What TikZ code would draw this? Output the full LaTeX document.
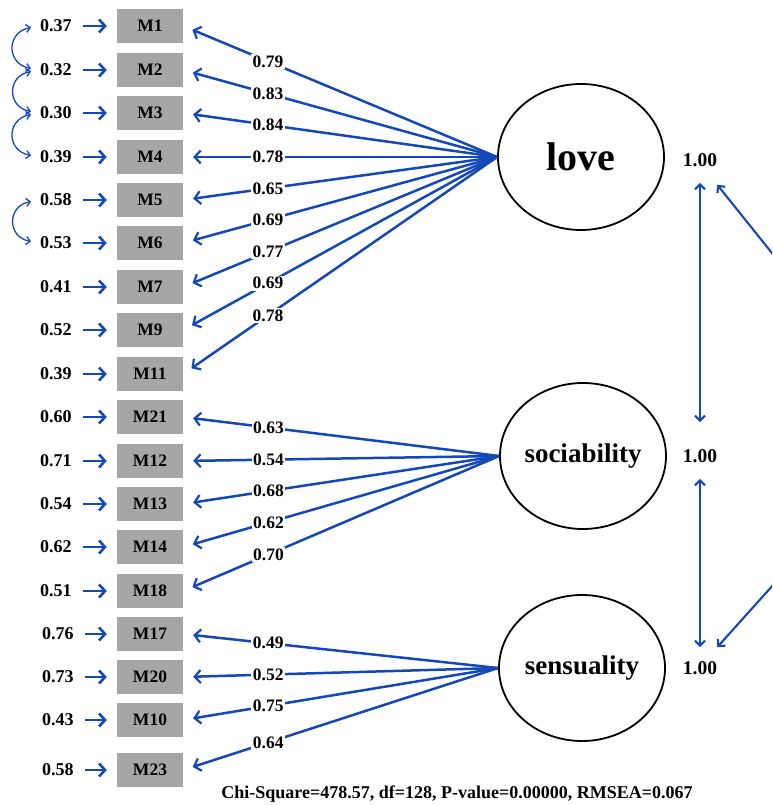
\documentclass[tikz,border=0pt]{standalone}
\usepackage{fontspec}
\setmainfont{Liberation Serif}
\usepackage{tikz}
\usetikzlibrary{arrows.meta, shapes.geometric, positioning}

\definecolor{pathblue}{RGB}{20,72,185}
\definecolor{boxgray}{RGB}{166,166,166}

\begin{document}
\begin{tikzpicture}[x=1pt, y=-1pt,
  obs/.style={fill=boxgray, minimum width=66pt, minimum height=34pt, inner sep=0pt,
    font=\bfseries\fontsize{17.5}{17.5}\selectfont},
  err/.style={inner sep=0pt, font=\bfseries\fontsize{18}{18}\selectfont},
  lat/.style={draw, ellipse, line width=1.8pt, inner sep=0pt,
    minimum width=166pt, minimum height=146pt},
  varlbl/.style={inner sep=0pt, font=\bfseries\fontsize{19.5}{19.5}\selectfont},
  lbl/.style={fill=white, text=black, inner sep=1.5pt, font=\bfseries\fontsize{17.5}{17.5}\selectfont},
  load/.style={pathblue, line width=2.5pt, shorten >=10pt,
    -{Straight Barb[length=6pt, width=13pt, line width=2.2pt]}},
  errarr/.style={pathblue, line width=2.8pt, shorten <=11pt, shorten >=10pt,
    -{Straight Barb[length=6pt, width=13pt, line width=2.6pt]}},
  cov/.style={pathblue, line width=1.3pt, shorten <=9pt, shorten >=9pt,
    {Straight Barb[length=4pt, width=8pt]}-{Straight Barb[length=4pt, width=8pt]}},
  varr/.style={pathblue, line width=2.1pt,
    {Straight Barb[length=5pt, width=10pt]}-{Straight Barb[length=5pt, width=10pt]}}]
  \useasboundingbox (0,0) rectangle (772,805);
  \clip (0,0) rectangle (772,805);

  % observed variables
  \node[obs] (M1)  at (150,26)  {M1};
  \node[obs] (M2)  at (150,70)  {M2};
  \node[obs] (M3)  at (150,113) {M3};
  \node[obs] (M4)  at (150,157) {M4};
  \node[obs] (M5)  at (150,200) {M5};
  \node[obs] (M6)  at (150,243) {M6};
  \node[obs] (M7)  at (150,287) {M7};
  \node[obs] (M9)  at (150,330) {M9};
  \node[obs] (M11) at (150,374) {M11};
  \node[obs] (M21) at (150,417) {M21};
  \node[obs] (M12) at (150,461) {M12};
  \node[obs] (M13) at (150,504) {M13};
  \node[obs] (M14) at (150,547) {M14};
  \node[obs] (M18) at (150,591) {M18};
  \node[obs] (M17) at (150,634) {M17};
  \node[obs] (M20) at (150,677) {M20};
  \node[obs] (M10) at (150,720) {M10};
  \node[obs] (M23) at (150,770) {M23};

  % error variances
  \node[err, left=45pt of M1]  (e1)  {0.37};
  \node[err, left=45pt of M2]  (e2)  {0.32};
  \node[err, left=45pt of M3]  (e3)  {0.30};
  \node[err, left=45pt of M4]  (e4)  {0.39};
  \node[err, left=45pt of M5]  (e5)  {0.58};
  \node[err, left=45pt of M6]  (e6)  {0.53};
  \node[err, left=45pt of M7]  (e7)  {0.41};
  \node[err, left=45pt of M9]  (e9)  {0.52};
  \node[err, left=45pt of M11] (e11) {0.39};
  \node[err, left=45pt of M21] (e21) {0.60};
  \node[err, left=45pt of M12] (e12) {0.71};
  \node[err, left=45pt of M13] (e13) {0.54};
  \node[err, left=45pt of M14] (e14) {0.62};
  \node[err, left=45pt of M18] (e18) {0.51};
  \node[err, left=43pt of M17] (e17) {0.76};
  \node[err, left=43pt of M20] (e20) {0.73};
  \node[err, left=43pt of M10] (e10) {0.43};
  \node[err, left=43pt of M23] (e23) {0.58};

  \foreach \i in {1,2,3,4,5,6,7,9,11,21,12,13,14,18,17,20,10,23}
    \draw[errarr] (e\i) -- (M\i);

  % latent variables
  \node[lat, font=\bfseries\fontsize{40}{40}\selectfont] (love) at (581,157) {love};
  \node[lat, font=\bfseries\fontsize{27}{27}\selectfont] (soc)  at (583,456) {sociability};
  \node[lat, font=\bfseries\fontsize{27}{27}\selectfont] (sens) at (582,668) {sensuality};

  \node[varlbl] (v1) at (700,160) {1.00};
  \node[varlbl] (v2) at (700,456) {1.00};
  \node[varlbl] (v3) at (700,668) {1.00};

  % loadings
  \draw[load] (love.west) -- (M1.east)  node[lbl, pos=0.73] {0.79};
  \draw[load] (love.west) -- (M2.east)  node[lbl, pos=0.73] {0.83};
  \draw[load] (love.west) -- (M3.east)  node[lbl, pos=0.73] {0.84};
  \draw[load] (love.west) -- (M4.east)  node[lbl, pos=0.73] {0.78};
  \draw[load] (love.west) -- (M5.east)  node[lbl, pos=0.73] {0.65};
  \draw[load] (love.west) -- (M6.east)  node[lbl, pos=0.73] {0.69};
  \draw[load] (love.west) -- (M7.east)  node[lbl, pos=0.73] {0.77};
  \draw[load] (love.west) -- (M9.east)  node[lbl, pos=0.73] {0.69};
  \draw[load] (love.west) -- (M11.east) node[lbl, pos=0.73] {0.78};

  \draw[load] (soc.west) -- (M21.east) node[lbl, pos=0.73] {0.63};
  \draw[load] (soc.west) -- (M12.east) node[lbl, pos=0.73] {0.54};
  \draw[load] (soc.west) -- (M13.east) node[lbl, pos=0.73] {0.68};
  \draw[load] (soc.west) -- (M14.east) node[lbl, pos=0.73] {0.62};
  \draw[load] (soc.west) -- (M18.east) node[lbl, pos=0.73] {0.70};

  \draw[load] (sens.west) -- (M17.east) node[lbl, pos=0.73] {0.49};
  \draw[load] (sens.west) -- (M20.east) node[lbl, pos=0.73] {0.52};
  \draw[load] (sens.west) -- (M10.east) node[lbl, pos=0.73] {0.75};
  \draw[load] (sens.west) -- (M23.east) node[lbl, pos=0.73] {0.64};

  % error covariances
  \draw[cov] (e1.west) to[out=190, in=170, looseness=2] (e2.west);
  \draw[cov] (e2.west) to[out=190, in=170, looseness=2] (e3.west);
  \draw[cov] (e3.west) to[out=190, in=170, looseness=2] (e4.west);
  \draw[cov] (e5.west) to[out=190, in=170, looseness=2] (e6.west);

  % factor correlations
  \draw[varr, shorten <=16pt, shorten >=27pt] (v1.south) -- (v2.north);
  \draw[varr, shorten <=16pt, shorten >=14pt] (v2.south) -- (v3.north);
  \coordinate (r1) at (800,288);
  \coordinate (r2) at (800,555);
  \draw[varr] ([yshift=-18pt]v1.south east) -- (r1) -- (r2) -- ([yshift=14pt]v3.north east);

  \node[inner sep=0pt, font=\bfseries\fontsize{18}{18}\selectfont] (fit) at (457,794)
    {Chi-Square=478.57, df=128, P-value=0.00000, RMSEA=0.067};
\end{tikzpicture}
\end{document}
